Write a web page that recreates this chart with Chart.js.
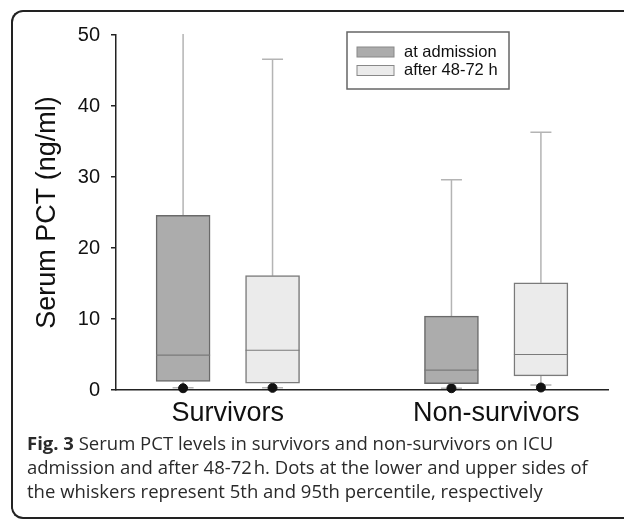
<!DOCTYPE html>
<html>
<head>
<meta charset="utf-8">
<script src="https://cdn.jsdelivr.net/npm/chart.js@4.4.1/dist/chart.umd.min.js"></script>
<style>
  html, body { margin: 0; padding: 0; background: #fff; }
  body { width: 624px; height: 519px; position: relative; overflow: hidden; }
  #frame {
    position: absolute; left: 11px; top: 10px; width: 640px; height: 505px;
    border: 2px solid #222; border-right: none; border-radius: 12px 0 0 12px;
  }
  #wrap { position: absolute; left: 0; top: 0; width: 624px; height: 432px; }
  #caption {
    position: absolute; left: 27px; top: 431px; width: 595px;
    font-family: "Open Sans", sans-serif; font-size: 18.5px; line-height: 24px; color: #2a2a2a;
  }
</style>
</head>
<body>
<div id="frame"></div>
<div id="wrap"><canvas id="myChart" width="624" height="432"></canvas></div>
<div id="caption"><b>Fig. 3</b> Serum PCT levels in survivors and non-survivors on ICU<br>admission and after 48-72&#8202;h. Dots at the lower and upper sides of<br>the whiskers represent 5th and 95th percentile, respectively</div>
<script>
// groups and series
const groups = ['Survivors', 'Non-survivors'];
const series = ['at admission', 'after 48-72 h'];
const yTicks = [0, 10, 20, 30, 40, 50];

// at admission: box (25th-75th), median, whiskers (10th/90th), dot (5th)
const q1Adm = [1.2, 0.9];
const q3Adm = [24.6, 10.4];
const medAdm = [4.9, 2.8];
const lowAdm = [0.3, 0.25];
const highAdm = [55, 29.6];
const p5Adm = [0.25, 0.25];

// after 48-72 h
const q1Aft = [0.95, 2.0];
const q3Aft = [16.1, 15.1];
const medAft = [5.6, 5.0];
const lowAft = [0.3, 0.7];
const highAft = [46.6, 36.3];
const p5Aft = [0.3, 0.35];

// x positions on a 0..11 linear axis (layout only)
const groupX = [2.5, 8.5];
const shift = 1;

function boxes(q1, q3, dx) {
    var out = [];
    for (let i = 0; i < groups.length; i++) {
        out.push({x: groupX[i] + dx, y: [q1[i], q3[i]]});
    }
    return out;
}

function dots() {
    var out = [];
    for (let i = 0; i < groups.length; i++) {
        out.push({x: groupX[i] - shift, y: p5Adm[i]});
        out.push({x: groupX[i] + shift, y: p5Aft[i]});
    }
    return out;
}

const boxColors = ['#acacac', '#ebebeb'];

// whiskers behind the boxes, medians on top of them
const boxPlot = {
    id: 'boxPlot',
    beforeDatasetsDraw(chart) {
        const ctx = chart.ctx;
        const xs = chart.scales.x, ys = chart.scales.y, a = chart.chartArea;
        ctx.save();
        ctx.beginPath();
        ctx.rect(a.left, a.top - 1, a.right - a.left, a.bottom - a.top + 2);
        ctx.clip();
        ctx.strokeStyle = '#b4b4b4';
        ctx.lineWidth = 1.5;
        const sets = [[q1Adm, q3Adm, lowAdm, highAdm, -shift], [q1Aft, q3Aft, lowAft, highAft, shift]];
        sets.forEach(s => {
            for (let i = 0; i < groups.length; i++) {
                const px = xs.getPixelForValue(groupX[i] + s[4]);
                const pairs = [[s[0][i], s[2][i]], [s[1][i], s[3][i]]];
                pairs.forEach(p => {
                    const y0 = ys.getPixelForValue(p[0]);
                    const y1 = ys.getPixelForValue(p[1]);
                    ctx.beginPath();
                    ctx.moveTo(px, y0);
                    ctx.lineTo(px, y1);
                    ctx.moveTo(px - 10.5, y1);
                    ctx.lineTo(px + 10.5, y1);
                    ctx.stroke();
                });
            }
        });
        ctx.restore();
    },
    afterDatasetDraw(chart, args) {
        if (args.index > 1) return;
        const ctx = chart.ctx;
        const xs = chart.scales.x, ys = chart.scales.y;
        const med = args.index == 0 ? medAdm : medAft;
        const dx = args.index == 0 ? -shift : shift;
        ctx.save();
        ctx.strokeStyle = '#7a7a7a';
        ctx.lineWidth = 1.2;
        for (let i = 0; i < groups.length; i++) {
            const px = xs.getPixelForValue(groupX[i] + dx);
            const py = ys.getPixelForValue(med[i]);
            ctx.beginPath();
            ctx.moveTo(px - 27, py);
            ctx.lineTo(px + 27, py);
            ctx.stroke();
        }
        ctx.restore();
    },
    afterDraw(chart) {
        // legend box
        const ctx = chart.ctx;
        const a = chart.chartArea;
        const lx = a.left + 231, ly = 32;
        ctx.save();
        ctx.strokeStyle = '#666';
        ctx.lineWidth = 1.5;
        ctx.strokeRect(lx, ly, 162, 57);
        ctx.font = '16.5px "Liberation Sans", Arial, sans-serif';
        ctx.textBaseline = 'middle';
        for (let i = 0; i < series.length; i++) {
            const yy = ly + 20 + i * 18.5;
            ctx.fillStyle = boxColors[i];
            ctx.fillRect(lx + 10, yy - 5, 37, 10);
            ctx.strokeStyle = '#888';
            ctx.lineWidth = 1;
            ctx.strokeRect(lx + 10, yy - 5, 37, 10);
            ctx.fillStyle = '#111';
            ctx.fillText(chart.data.datasets[i].label, lx + 57, yy);
        }
        ctx.restore();
    }
};

const ctx = document.getElementById('myChart').getContext('2d');
const myChart = new Chart(ctx, {
    type: 'bar',
    data: {
        datasets: [
            {label: series[0], data: boxes(q1Adm, q3Adm, -shift), backgroundColor: boxColors[0],
             borderColor: '#6a6a6a', borderWidth: 1.5, borderSkipped: false, barThickness: 54, grouped: false},
            {label: series[1], data: boxes(q1Aft, q3Aft, shift), backgroundColor: boxColors[1],
             borderColor: '#7a7a7a', borderWidth: 1.5, borderSkipped: false, barThickness: 54, grouped: false},
            {type: 'scatter', label: '5th percentile', data: dots(), backgroundColor: '#111', borderColor: '#111',
             pointRadius: 4.5, clip: false}
        ]
    },
    options: {
        responsive: false,
        animation: false,
        layout: { padding: { top: 35, right: 16, left: 0, bottom: 0 } },
        plugins: { legend: { display: false }, tooltip: { enabled: false } },
        scales: {
            x: {
                type: 'linear', min: 0, max: 11, offset: false,
                afterBuildTicks: (scale) => { scale.ticks = groupX.map(v => ({value: v})); },
                afterFit: (scale) => { scale.height = 42; },
                grid: { display: false, drawTicks: false, offset: false },
                border: { display: true, color: '#222', width: 1.5 },
                ticks: {
                    autoSkip: false, maxRotation: 0, padding: 7, color: '#111',
                    font: { family: '"Liberation Sans", Arial, sans-serif', size: 27 },
                    callback: (v) => groups[groupX.indexOf(v)]
                }
            },
            y: {
                min: 0, max: 50,
                afterBuildTicks: (scale) => { scale.ticks = yTicks.map(v => ({value: v})); },
                afterFit: (scale) => { scale.width = 116; },
                grid: { display: true, drawOnChartArea: false, drawTicks: true, tickLength: 5, color: '#222', lineWidth: 1.5 },
                border: { display: true, color: '#222', width: 1.5 },
                ticks: { padding: 11, color: '#111', font: { family: '"Liberation Sans", Arial, sans-serif', size: 20 } },
                title: {
                    display: true, text: 'Serum PCT (ng/ml)', color: '#111', padding: { top: 31, bottom: 0 },
                    font: { family: '"Liberation Sans", Arial, sans-serif', size: 27 }
                }
            }
        }
    },
    plugins: [boxPlot]
});
</script>
</body>
</html>
